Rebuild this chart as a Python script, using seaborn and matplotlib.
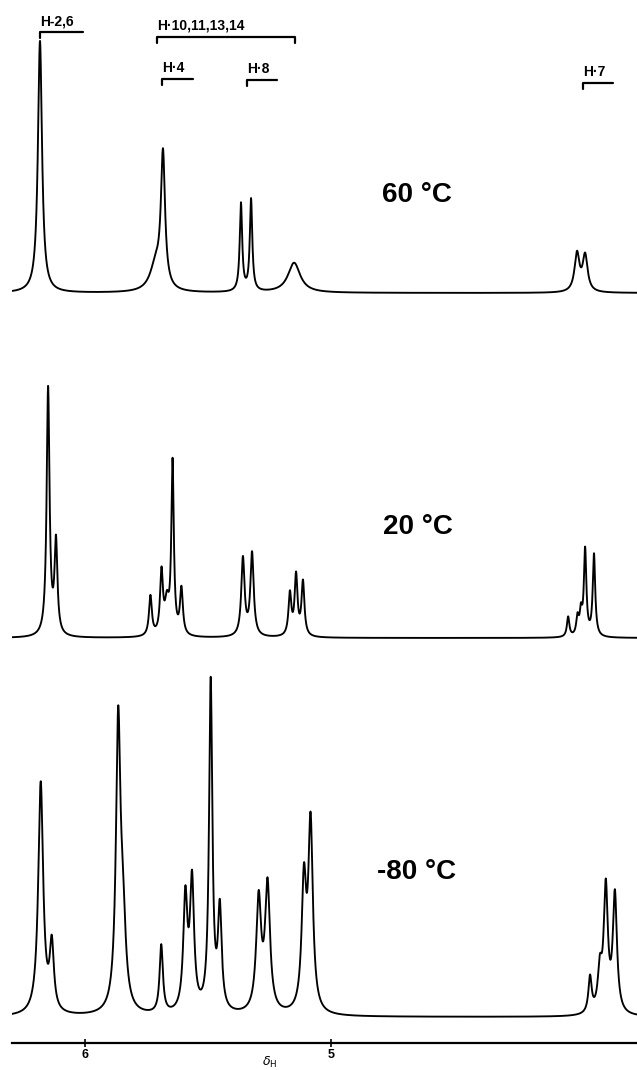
"""
plot.py
- variable-temperature 1H NMR spectra, stacked (60, 20, -80 degC)
"""

import numpy as np
import pandas as pd
import matplotlib
matplotlib.use("Agg")
import matplotlib.pyplot as plt
import seaborn as sns

# peak tables: shift (ppm), height (px above baseline), half width (ppm)
shift_60 = [6.183, 5.712, 5.683, 5.366, 5.325, 5.150, 4.000, 3.967]
height_60 = [252, 26, 132, 88, 92, 30, 38, 36]
hw_60 = [0.010, 0.028, 0.010, 0.006, 0.006, 0.030, 0.012, 0.012]

shift_20 = [6.150, 6.118, 5.734, 5.689, 5.667, 5.644, 5.608,
            5.358, 5.321, 5.167, 5.142, 5.114,
            4.036, 3.998, 3.984, 3.967, 3.931]
height_20 = [248, 92, 40, 62, 30, 172, 46,
             78, 83, 42, 60, 54,
             20, 18, 22, 86, 82]
hw_20 = [0.007, 0.007, 0.007, 0.007, 0.010, 0.006, 0.007,
         0.008, 0.008, 0.007, 0.007, 0.007,
         0.006, 0.006, 0.006, 0.006, 0.006]

shift_m80 = [6.180, 6.135, 5.865, 5.846, 5.690, 5.592, 5.565,
             5.489, 5.452, 5.294, 5.258, 5.110, 5.083,
             3.947, 3.907, 3.883, 3.846]
height_m80 = [232, 66, 282, 80, 68, 112, 128,
              330, 100, 112, 126, 126, 186,
              36, 40, 124, 118]
hw_m80 = [0.012, 0.010, 0.011, 0.014, 0.008, 0.010, 0.010,
          0.008, 0.009, 0.012, 0.012, 0.011, 0.011,
          0.008, 0.010, 0.010, 0.010]

temps = ["60 °C", "20 °C", "-80 °C"]
baselines = [750, 405, 26]

bracket_labels = ["H-2,6", "H·10,11,13,14", "H·4", "H·8", "H·7"]
bracket_from = [6.183, 5.707, 5.687, 5.341, 3.976]
bracket_to = [6.008, 5.146, 5.561, 5.220, 3.854]

tick_ppm = [6, 5]


def lorentz_sum(x, shifts, heights, hws):
    y = np.zeros_like(x)
    for s, h, w in zip(shifts, heights, hws):
        y += h / (1 + ((x - s) / w) ** 2)
    return y


ppm = np.linspace(6.2967, 3.7561, 5000)
frames = []
for name, base, pk in zip(temps, baselines,
                          [(shift_60, height_60, hw_60),
                           (shift_20, height_20, hw_20),
                           (shift_m80, height_m80, hw_m80)]):
    frames.append(pd.DataFrame({"ppm": ppm,
                                "intensity": base + lorentz_sum(ppm, *pk),
                                "temp": name}))
df = pd.concat(frames, ignore_index=True)

sns.set_style("white")
plt.rcParams['font.family'] = ['Liberation Sans', 'DejaVu Sans']

fig = plt.figure(figsize=(6.37, 10.70), dpi=100)
ax = fig.add_axes([12 / 637, 27 / 1070, 625 / 637, 1043 / 1070])
sns.lineplot(data=df, x="ppm", y="intensity", units="temp", estimator=None,
             color="black", lw=1.35, sort=False, ax=ax, legend=False)
ax.set_xlim(6.2967, 3.7561)
ax.set_ylim(0, 1043)

for s in ["top", "left", "right"]:
    ax.spines[s].set_visible(False)
ax.spines["bottom"].set_linewidth(1.6)
ax.spines["bottom"].set_color("black")
ax.set_yticks([])
ax.set_xticks(tick_ppm)
ax.set_xticklabels([str(t) for t in tick_ppm], fontweight="bold", fontsize=9,
                   color="black")
ax.tick_params(axis="x", direction="inout", length=6, width=1.2, pad=1,
               bottom=True, colors="black")
ax.set_xlabel("")
ax.set_ylabel("")
ax.text(5.248, -19, r"$\delta_{\rm H}$", fontsize=9, ha="center", va="center",
        color="black", clip_on=False)

# temperature labels
for name, tx, ty in zip(temps, [51, 52, 46], [848, 516, 171]):
    ax.text(5.0 - tx / 246, ty, name, fontsize=20, fontweight="bold",
            va="center", ha="left", color="black")

# assignment brackets
bar_y = [1011, 1006, 964, 963, 960]
for lab, x0, x1, by in zip(bracket_labels, bracket_from, bracket_to, bar_y):
    both = lab.startswith("H·10")
    ax.plot([x0, x0, x1] + ([x1] if both else []),
            [by - 6, by, by] + ([by - 6] if both else []),
            color="black", lw=1.6, clip_on=False)
    ax.text(x0, by + 4, lab, fontsize=10, fontweight="bold", ha="left",
            va="bottom", color="black")

fig.savefig("out.png", dpi=100)
plt.close(fig)
